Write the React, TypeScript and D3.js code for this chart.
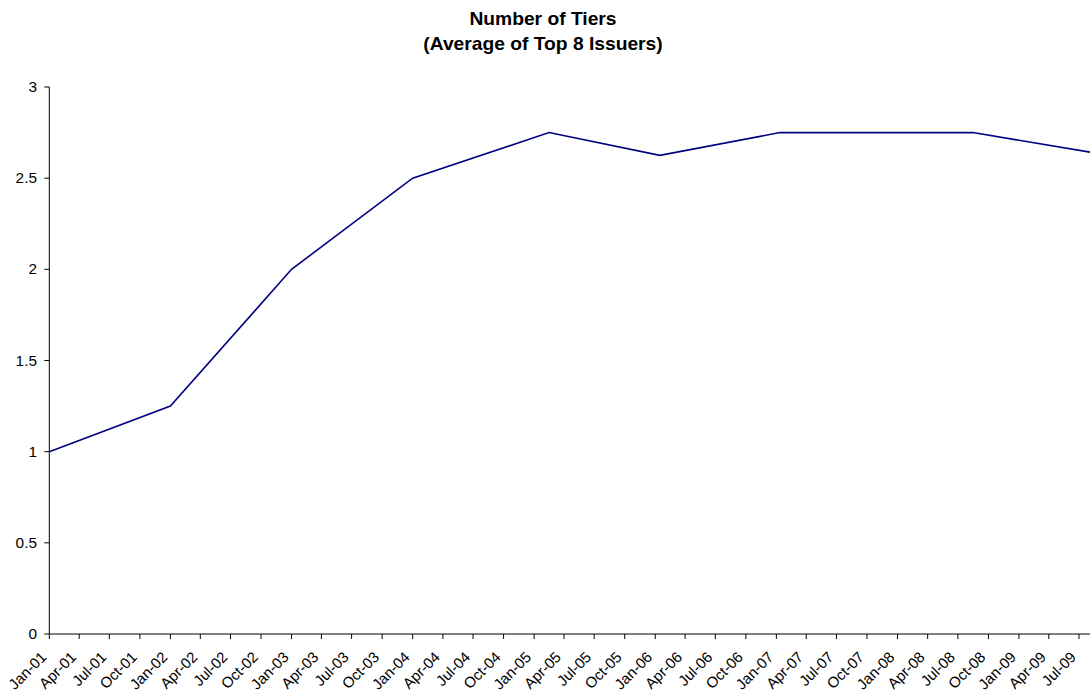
import React from "react";
import * as d3 from "d3";

const pointDates = ["2001-01-01", "2002-01-01", "2003-01-01", "2004-01-01", "2005-02-15", "2006-01-15", "2007-01-12", "2008-08-15", "2009-10-01"];
const pointValues = [1, 1.25, 2, 2.5, 2.75, 2.625, 2.75, 2.75, 2.625];

const xTickLabels = [
  "Jan-01", "Apr-01", "Jul-01", "Oct-01",
  "Jan-02", "Apr-02", "Jul-02", "Oct-02",
  "Jan-03", "Apr-03", "Jul-03", "Oct-03",
  "Jan-04", "Apr-04", "Jul-04", "Oct-04",
  "Jan-05", "Apr-05", "Jul-05", "Oct-05",
  "Jan-06", "Apr-06", "Jul-06", "Oct-06",
  "Jan-07", "Apr-07", "Jul-07", "Oct-07",
  "Jan-08", "Apr-08", "Jul-08", "Oct-08",
  "Jan-09", "Apr-09", "Jul-09",
];
const yTicks = [0, 0.5, 1, 1.5, 2, 2.5, 3];
const yTickLabels = ["0", "0.5", "1", "1.5", "2", "2.5", "3"];

const titleLines = ["Number of Tiers", "(Average of Top 8 Issuers)"];

const W = 1090;
const H = 700;
const FONT = "'Liberation Sans', Arial, sans-serif";

export default function App() {
  const parseIso = d3.timeParse("%Y-%m-%d");
  const parseLbl = d3.timeParse("%b-%y");
  const data = pointDates.map((d, i) => ({ date: parseIso(d) as Date, value: pointValues[i] }));
  const tickDates = xTickLabels.map((l) => parseLbl(l) as Date);

  const x = d3
    .scaleTime()
    .domain([parseIso("2001-01-01") as Date, parseIso("2009-07-01") as Date])
    .range([49.3, 1079]);
  const y = d3.scaleLinear().domain([0, 3]).range([634, 87]);

  const line = d3
    .line<{ date: Date; value: number }>()
    .x((d) => x(d.date))
    .y((d) => y(d.value));

  const x0 = x.range()[0];
  const y0 = y(0);

  return (
    <svg
      width={W}
      height={H}
      style={{ position: "absolute", left: 0, top: 0, background: "#fff" }}
      fontFamily={FONT}
    >
      <rect x={0} y={0} width={W} height={H} fill="#fff" />
      {titleLines.map((t, i) => (
        <text
          key={i}
          transform={`translate(543, ${25 + i * 24.5}) scale(1.1, 1)`}
          textAnchor="middle"
          fontSize={17.5}
          fontWeight="bold"
          fill="#000"
        >
          {t}
        </text>
      ))}

      {/* y axis */}
      <line x1={x0} x2={x0} y1={y(3)} y2={y0} stroke="#000" strokeWidth={1} />
      {yTicks.map((v, i) => (
        <g key={i}>
          <line x1={x0 - 5} x2={x0} y1={y(v)} y2={y(v)} stroke="#000" strokeWidth={1} />
          <text
            transform={`translate(37, ${y(v) + 5}) scale(1.1, 1)`}
            textAnchor="end"
            fontSize={14}
            fill="#000"
          >
            {yTickLabels[i]}
          </text>
        </g>
      ))}

      {/* x axis */}
      <line x1={x0} x2={W + 30} y1={y0} y2={y0} stroke="#000" strokeWidth={1} />
      {tickDates.map((d, i) => (
        <g key={i}>
          <line x1={x(d)} x2={x(d)} y1={y0} y2={y0 + 5} stroke="#000" strokeWidth={1} />
          <text
            transform={`translate(${x(d) - 2}, ${y0 + 24}) rotate(-45)`}
            textAnchor="end"
            fontSize={15}
            fill="#000"
          >
            {xTickLabels[i]}
          </text>
        </g>
      ))}

      <path d={line(data) || ""} fill="none" stroke="#000080" strokeWidth={1.6} />
    </svg>
  );
}
